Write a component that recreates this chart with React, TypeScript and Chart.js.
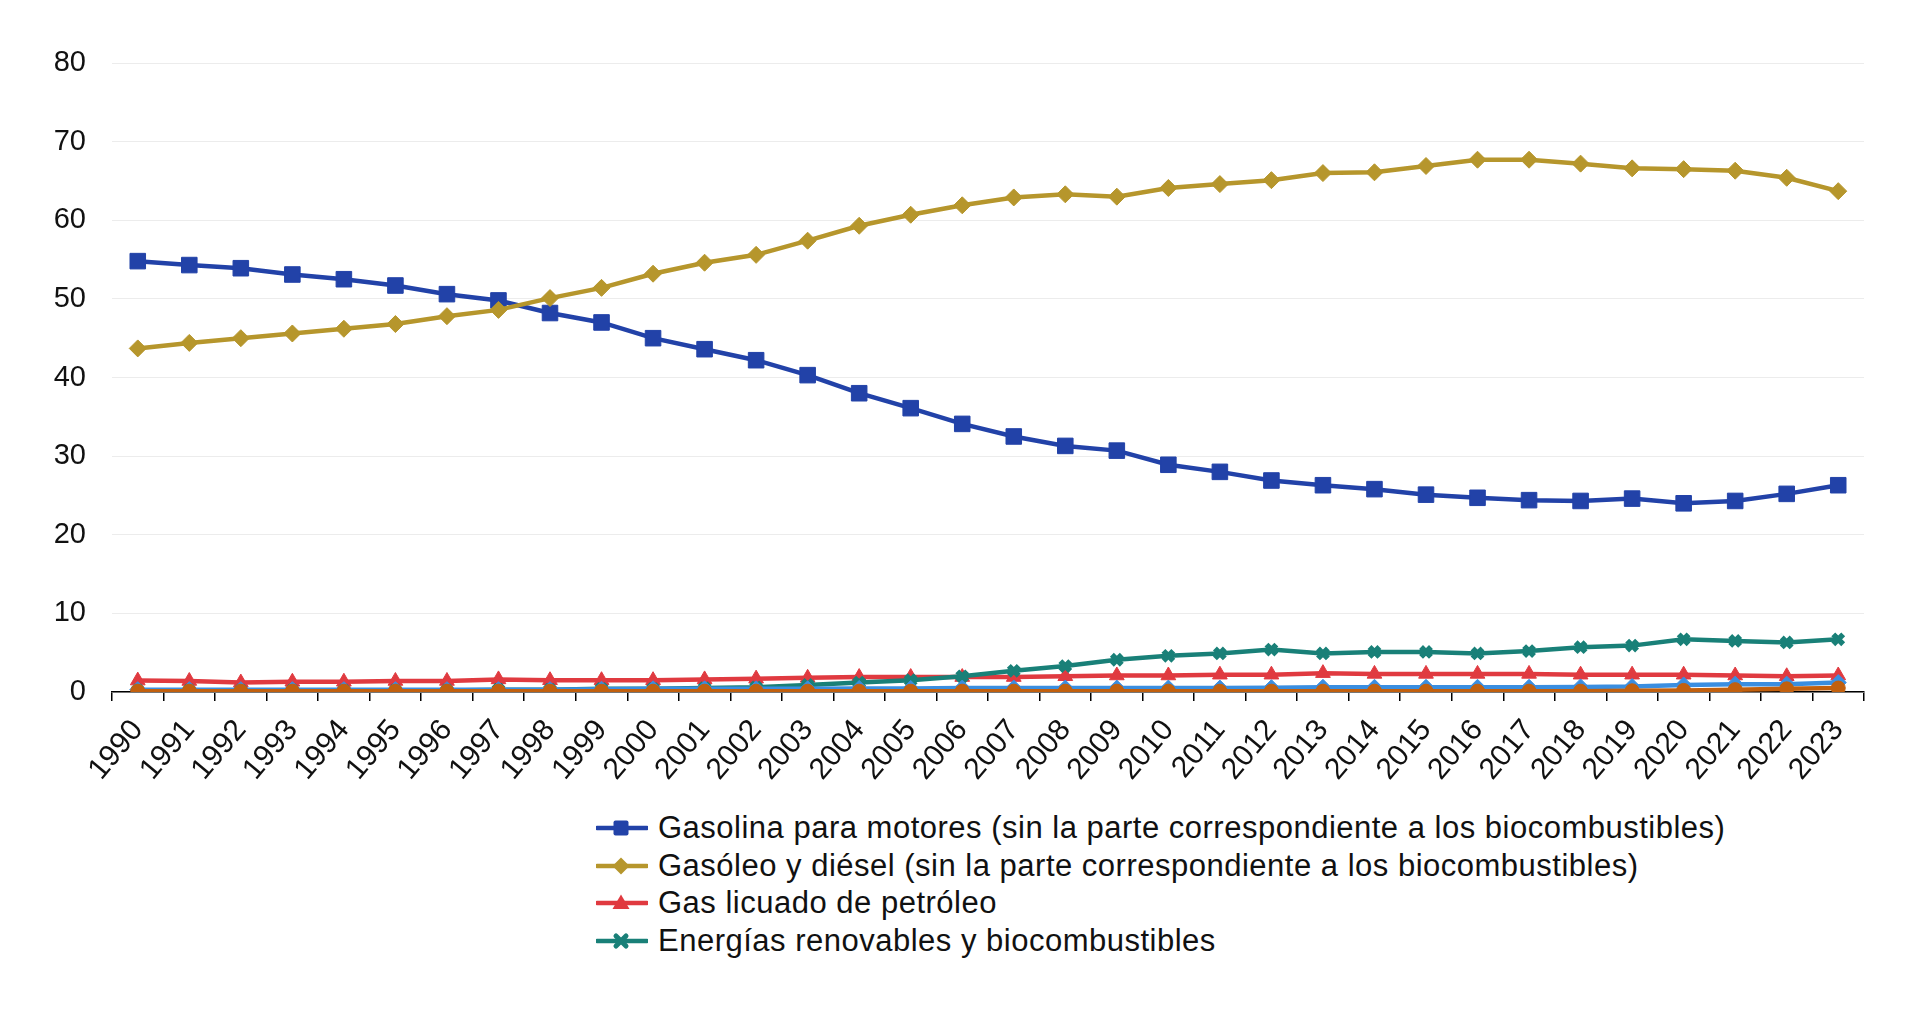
import React, { useEffect, useRef } from 'react';
import { Chart, registerables } from 'chart.js';

Chart.register(...registerables);

const years = [
  '1990', '1991', '1992', '1993', '1994', '1995', '1996', '1997', '1998', '1999',
  '2000', '2001', '2002', '2003', '2004', '2005', '2006', '2007', '2008', '2009',
  '2010', '2011', '2012', '2013', '2014', '2015', '2016', '2017', '2018', '2019',
  '2020', '2021', '2022', '2023',
];

const gasolina = [
  54.8, 54.3, 53.9, 53.1, 52.5, 51.7, 50.6, 49.8, 48.2, 47.0,
  45.0, 43.6, 42.2, 40.3, 38.0, 36.1, 34.1, 32.5, 31.3, 30.7,
  28.9, 28.0, 26.9, 26.3, 25.8, 25.1, 24.7, 24.4, 24.3, 24.6,
  24.0, 24.3, 25.2, 26.3,
];

const gasoleo = [
  43.7, 44.4, 45.0, 45.6, 46.2, 46.8, 47.8, 48.6, 50.1, 51.4,
  53.2, 54.6, 55.6, 57.4, 59.3, 60.7, 61.9, 62.9, 63.3, 63.0,
  64.1, 64.6, 65.1, 66.0, 66.1, 66.9, 67.7, 67.7, 67.2, 66.6,
  66.5, 66.3, 65.4, 63.7,
];

const glp = [
  1.45, 1.4, 1.2, 1.3, 1.3, 1.4, 1.4, 1.6, 1.5, 1.5,
  1.5, 1.6, 1.7, 1.8, 1.9, 1.9, 1.9, 1.9, 2.0, 2.1,
  2.1, 2.2, 2.2, 2.4, 2.3, 2.3, 2.3, 2.3, 2.2, 2.2,
  2.2, 2.1, 2.0, 2.1,
];

const renovables = [
  0.2, 0.2, 0.2, 0.2, 0.2, 0.2, 0.2, 0.3, 0.3, 0.4,
  0.4, 0.5, 0.6, 0.9, 1.2, 1.5, 2.0, 2.7, 3.3, 4.1,
  4.6, 4.9, 5.4, 4.9, 5.1, 5.1, 4.9, 5.2, 5.7, 5.9,
  6.7, 6.5, 6.3, 6.7,
];

const gasNatural = [
  0.3, 0.3, 0.3, 0.3, 0.3, 0.3, 0.3, 0.3, 0.3, 0.35,
  0.4, 0.4, 0.4, 0.4, 0.45, 0.45, 0.5, 0.5, 0.5, 0.5,
  0.5, 0.5, 0.55, 0.6, 0.6, 0.6, 0.6, 0.6, 0.65, 0.7,
  0.9, 1.0, 1.0, 1.2,
];

const electricidad = [
  0.1, 0.1, 0.1, 0.1, 0.1, 0.1, 0.1, 0.1, 0.1, 0.1,
  0.1, 0.1, 0.1, 0.1, 0.1, 0.1, 0.1, 0.1, 0.1, 0.1,
  0.1, 0.1, 0.1, 0.1, 0.1, 0.1, 0.1, 0.1, 0.1, 0.15,
  0.2, 0.3, 0.4, 0.5,
];

const yTicks = [0, 10, 20, 30, 40, 50, 60, 70, 80];

type Series = {
  label: string;
  data: number[];
  color: string;
  point: string;
  radius: number;
  border: number;
  inLegend: boolean;
};

const series: Series[] = [
  { label: 'Gasolina para motores (sin la parte correspondiente a los biocombustibles)', data: gasolina, color: '#2242a8', point: 'rect', radius: 11, border: 1, inLegend: true },
  { label: 'Gasóleo y diésel (sin la parte correspondiente a los biocombustibles)', data: gasoleo, color: '#b6962c', point: 'rectRot', radius: 8.5, border: 1, inLegend: true },
  { label: 'Gas licuado de petróleo', data: glp, color: '#e03a40', point: 'triangle', radius: 8.5, border: 1, inLegend: true },
  { label: 'Energías renovables y biocombustibles', data: renovables, color: '#198078', point: 'crossRot', radius: 7, border: 5.5, inLegend: true },
  { label: 'Gas natural', data: gasNatural, color: '#3a8ee0', point: 'rectRot', radius: 8, border: 1, inLegend: false },
  { label: 'Electricidad', data: electricidad, color: '#c2600e', point: 'circle', radius: 7, border: 1, inLegend: false },
];

const FONT = '"Liberation Sans", Arial, Helvetica, sans-serif';

function Marker({ s }: { s: Series }) {
  const cx = 25, cy = 12;
  let shape: React.ReactNode = null;
  if (s.point === 'rect') {
    shape = <rect x={cx - 7.5} y={cy - 7.5} width={15} height={15} rx={2} fill={s.color} />;
  } else if (s.point === 'rectRot') {
    shape = <polygon points={`${cx},${cy - 8.5} ${cx + 8.5},${cy} ${cx},${cy + 8.5} ${cx - 8.5},${cy}`} fill={s.color} />;
  } else if (s.point === 'triangle') {
    shape = <polygon points={`${cx},${cy - 8.5} ${cx + 8.5},${cy + 6} ${cx - 8.5},${cy + 6}`} fill={s.color} />;
  } else if (s.point === 'crossRot') {
    shape = (
      <g stroke={s.color} strokeWidth={5} strokeLinecap="round">
        <line x1={cx - 5} y1={cy - 5} x2={cx + 5} y2={cy + 5} />
        <line x1={cx - 5} y1={cy + 5} x2={cx + 5} y2={cy - 5} />
      </g>
    );
  } else {
    shape = <circle cx={cx} cy={cy} r={7} fill={s.color} />;
  }
  return (
    <svg width={52} height={24} style={{ display: 'block' }}>
      <line x1={1} y1={cy} x2={51} y2={cy} stroke={s.color} strokeWidth={4.5} strokeLinecap="round" />
      {shape}
    </svg>
  );
}

export default function App() {
  const canvasRef = useRef<HTMLCanvasElement | null>(null);

  useEffect(() => {
    const canvas = canvasRef.current;
    if (!canvas) return;
    const chart = new Chart(canvas, {
      type: 'line',
      data: {
        labels: years,
        datasets: series.map((s, i) => ({
          label: s.label,
          data: s.data,
          borderColor: s.color,
          backgroundColor: s.color,
          borderWidth: 4.5,
          pointStyle: s.point as any,
          pointRadius: s.radius,
          pointHoverRadius: s.radius,
          pointBorderWidth: s.border,
          pointBorderColor: s.color,
          pointBackgroundColor: s.color,
          tension: 0,
          fill: false,
          order: series.length - i,
        })),
      },
      options: {
        animation: false,
        responsive: true,
        maintainAspectRatio: false,
        layout: { padding: { left: 0, right: 56, top: 63, bottom: 0 } },
        plugins: {
          legend: { display: false },
          tooltip: { enabled: false },
        },
        scales: {
          x: {
            type: 'category',
            offset: true,
            grid: {
              display: true,
              drawOnChartArea: false,
              drawTicks: true,
              tickLength: 9,
              offset: true,
              color: '#000',
              lineWidth: 1.5,
            },
            border: { display: true, color: '#000', width: 1.5 },
            ticks: {
              autoSkip: false,
              maxRotation: 50,
              minRotation: 50,
              padding: 12,
              color: '#111',
              font: { family: FONT, size: 30 },
            },
            afterFit: (scale: any) => { scale.height = 100; },
          },
          y: {
            min: 0,
            max: 80,
            afterBuildTicks: (scale: any) => { scale.ticks = yTicks.map((v) => ({ value: v })); },
            grid: {
              color: '#ececec',
              lineWidth: 1,
              drawTicks: false,
            },
            border: { display: false },
            ticks: {
              padding: 26,
              color: '#111',
              font: { family: FONT, size: 29 },
            },
            afterFit: (scale: any) => { scale.width = 112; },
          },
        },
      },
    });
    return () => chart.destroy();
  }, []);

  return (
    <div style={{ position: 'fixed', left: 0, top: 0, width: 1920, height: 1012, background: '#fff', fontFamily: FONT }}>
      <div style={{ position: 'absolute', left: 0, top: 0, width: 1920, height: 792 }}>
        <canvas ref={canvasRef} />
      </div>
      <div style={{ position: 'absolute', left: 596, top: 809, display: 'flex', flexDirection: 'column' }}>
        {series.filter((s) => s.inLegend).map((s) => (
          <div key={s.label} style={{ display: 'flex', alignItems: 'center', height: 37.7 }}>
            <Marker s={s} />
            <span style={{ marginLeft: 10, fontSize: 31, letterSpacing: 0.5, color: '#111', whiteSpace: 'nowrap', lineHeight: '34px' }}>{s.label}</span>
          </div>
        ))}
      </div>
    </div>
  );
}
